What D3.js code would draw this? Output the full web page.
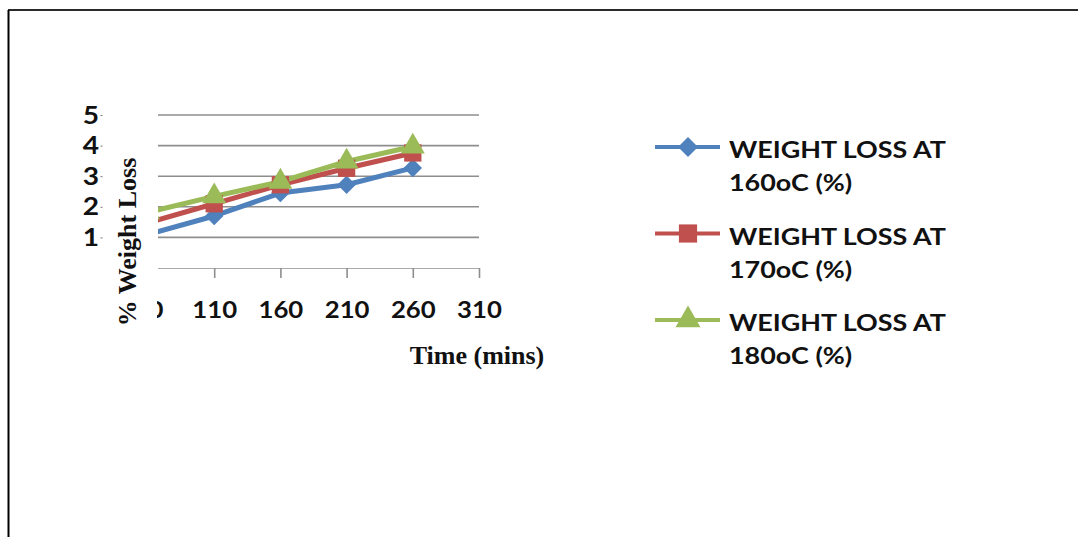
<!DOCTYPE html>
<html>
<head>
<meta charset="utf-8">
<script src="https://cdn.jsdelivr.net/npm/d3@7"></script>
<style>
  html, body { margin: 0; padding: 0; background: #fff; }
  svg { display: block; }
</style>
</head>
<body>
<svg id="chart" width="1078" height="537"></svg>
<script>
// Time points (mins) on the category axis
const times = [60, 110, 160, 210, 260, 310];
// % weight loss measured at each temperature
const loss160 = [1.1, 1.7, 2.45, 2.72, 3.27];
const loss170 = [1.48, 2.1, 2.72, 3.26, 3.76];
const loss180 = [1.82, 2.34, 2.82, 3.48, 3.97];
const yTicks = [1, 2, 3, 4, 5];
const seriesNames = ["WEIGHT LOSS AT 160oC (%)", "WEIGHT LOSS AT 170oC (%)", "WEIGHT LOSS AT 180oC (%)"];
const legendLines = [["WEIGHT LOSS AT", "160oC (%)"], ["WEIGHT LOSS AT", "170oC (%)"], ["WEIGHT LOSS AT", "180oC (%)"]];
const colors = ["#4F81BD", "#C0504D", "#9BBB59"];

// Square diamond (a square turned 45 degrees)
const symbolRhomb = {
  draw(context, size) {
    const r = Math.sqrt(size / 2);
    context.moveTo(0, -r);
    context.lineTo(r, 0);
    context.lineTo(0, r);
    context.lineTo(-r, 0);
    context.closePath();
  }
};
const symbols = [symbolRhomb, d3.symbolSquare, d3.symbolTriangle];
const markerSizes = [170, 300, 250];
const legendSizes = [200, 330, 270];

const series = [loss160, loss170, loss180].map((vals, i) => ({
  name: seriesNames[i],
  color: colors[i],
  symbol: symbols[i],
  size: markerSizes[i],
  legendSize: legendSizes[i],
  points: vals.map((v, j) => ({ t: times[j], v }))
}));

const svg = d3.select("#chart");
const sans = "Lato, 'Open Sans', sans-serif";
const serif = "'Liberation Serif', 'Times New Roman', serif";
const widen = 1.17; // the sans labels are set wide

// Frame
svg.append("line").attr("x1", 8).attr("x2", 1078).attr("y1", 10).attr("y2", 10)
  .attr("stroke", "#2a2a2a").attr("stroke-width", 2);
svg.append("line").attr("x1", 8.5).attr("x2", 8.5).attr("y1", 10).attr("y2", 537)
  .attr("stroke", "#000").attr("stroke-width", 2);

// Plot area
const plotLeft = 158, plotRight = 479, plotTop = 115, plotBottom = 268;
const x = d3.scalePoint().domain(times).range([148, 479]);
const y = d3.scaleLinear().domain([0, 5]).range([plotBottom, plotTop]);

const defs = svg.append("defs");
defs.append("clipPath").attr("id", "plotClip")
  .append("rect").attr("x", plotLeft).attr("y", 0).attr("width", 1078 - plotLeft).attr("height", 537);
defs.append("clipPath").attr("id", "labelClip")
  .append("rect").attr("x", plotLeft - 1).attr("y", 0).attr("width", 1078 - plotLeft).attr("height", 537);

// Horizontal gridlines
svg.append("g").selectAll("line").data(yTicks).join("line")
  .attr("x1", plotLeft).attr("x2", plotRight)
  .attr("y1", d => y(d)).attr("y2", d => y(d))
  .attr("stroke", "#8e8e8e").attr("stroke-width", 1.6);

// Category axis
const xAxis = d3.axisBottom(x).tickSize(10).tickFormat(d => String(d));
const gx = svg.append("g").attr("transform", `translate(0,${plotBottom})`).call(xAxis);
gx.select(".domain").remove();
gx.append("line").attr("x1", plotLeft).attr("x2", plotRight).attr("y1", 0).attr("y2", 0)
  .attr("stroke", "#8e8e8e").attr("stroke-width", 1.6);
gx.attr("clip-path", "url(#labelClip)");
gx.selectAll(".tick line").attr("stroke", "#8e8e8e").attr("stroke-width", 1.6);
gx.selectAll(".tick text")
  .attr("y", 50).attr("dy", 0)
  .attr("transform", "scale(1.12,1)")
  .attr("font-family", sans).attr("font-weight", 700).attr("font-size", 23)
  .attr("fill", "#111");

// Value axis labels
const gy = svg.append("g").attr("transform", "translate(99,0)");
gy.selectAll("text").data(yTicks).join("text")
  .attr("transform", d => `translate(0,${y(d)}) scale(${widen},1)`)
  .attr("dy", "0.36em")
  .attr("text-anchor", "end")
  .attr("font-family", sans).attr("font-weight", 700).attr("font-size", 24)
  .attr("fill", "#111").text(d => d);
gy.selectAll("line").data(yTicks).join("line")
  .attr("x1", 1.5).attr("x2", 3.5).attr("y1", d => y(d) + 0.5).attr("y2", d => y(d) + 0.5)
  .attr("stroke", "#777").attr("stroke-width", 1);

// Axis titles
svg.append("text")
  .attr("transform", "translate(136,242) rotate(-90)")
  .attr("text-anchor", "middle")
  .attr("font-family", serif).attr("font-weight", 700).attr("font-size", 26)
  .attr("fill", "#111").text("% Weight Loss");
svg.append("text")
  .attr("x", 477).attr("y", 364)
  .attr("text-anchor", "middle")
  .attr("font-family", serif).attr("font-weight", 700).attr("font-size", 26)
  .attr("fill", "#111").text("Time (mins)");

// Series lines and markers
const line = d3.line().x(d => x(d.t)).y(d => y(d.v));
const gs = svg.append("g").attr("clip-path", "url(#plotClip)");
series.forEach(s => {
  gs.append("path").datum(s.points).attr("d", line)
    .attr("fill", "none").attr("stroke", s.color).attr("stroke-width", 5)
    .attr("stroke-linejoin", "round");
});
series.forEach(s => {
  gs.append("g").selectAll("path").data(s.points).join("path")
    .attr("transform", d => `translate(${x(d.t)},${y(d.v)})`)
    .attr("d", d3.symbol().type(s.symbol).size(s.size))
    .attr("fill", s.color);
});

// Legend
const legend = svg.append("g").attr("transform", "translate(655,147)");
const entries = legend.selectAll("g").data(series).join("g")
  .attr("transform", (d, i) => `translate(0,${i * 86.5})`);
entries.append("line").attr("x1", 0).attr("x2", 65).attr("y1", 0).attr("y2", 0)
  .attr("stroke", d => d.color).attr("stroke-width", 4);
entries.append("path").attr("transform", "translate(33,0)")
  .attr("d", d => d3.symbol().type(d.symbol).size(d.legendSize)())
  .attr("fill", d => d.color);
entries.each(function (d, i) {
  const t = d3.select(this).append("text")
    .attr("transform", `translate(74,0) scale(${widen},1)`)
    .attr("font-family", sans).attr("font-weight", 700).attr("font-size", 23)
    .attr("fill", "#111");
  legendLines[i].forEach((ln, k) => {
    t.append("tspan").attr("x", 0).attr("y", 11 + k * 33.5).text(ln);
  });
});
</script>
</body>
</html>
